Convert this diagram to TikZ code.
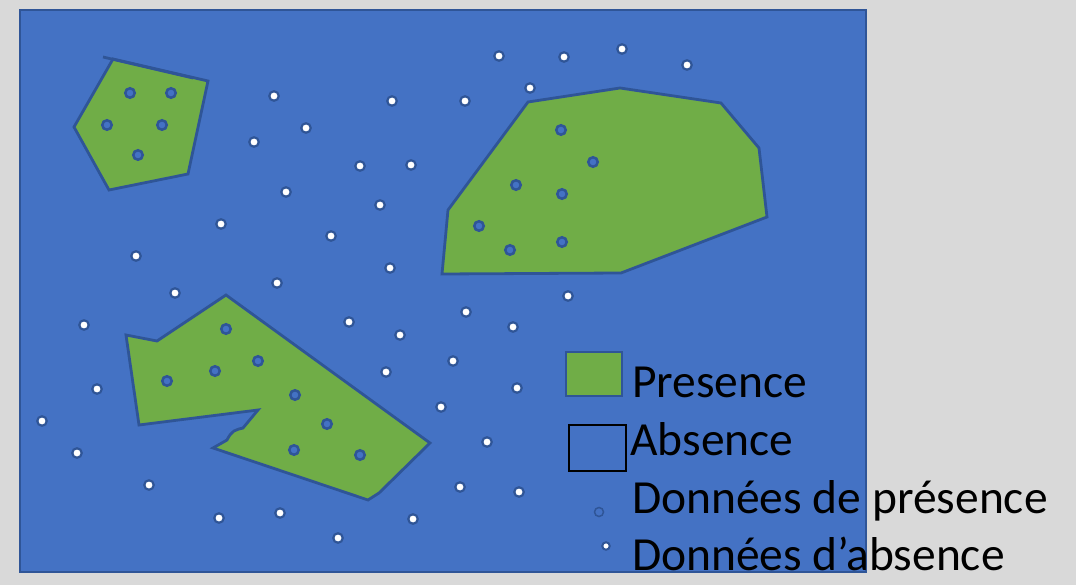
\documentclass[tikz,border=0pt]{standalone}
\usepackage{fontspec}
\setmainfont{Carlito}
\definecolor{bgray}{HTML}{D9D9D9}
\definecolor{mblue}{HTML}{4472C4}
\definecolor{dblue}{HTML}{2F5597}
\definecolor{pgreen}{HTML}{70AD47}
\begin{document}
\begin{tikzpicture}[x=1pt,y=-1pt,
  zone/.style={fill=pgreen,draw=dblue,line width=2.8pt,line join=miter},
  pres/.style={circle,fill=mblue,draw=dblue,line width=2.5pt,minimum size=9.5pt,inner sep=0pt},
  abs/.style={circle,fill=white,draw=dblue,line width=2.2pt,minimum size=9.5pt,inner sep=0pt},
  legtext/.style={anchor=base west,font=\fontsize{47.5}{52}\selectfont,inner sep=0pt,text=black}]
\fill[bgray] (0,0) rectangle (1076,585);
\useasboundingbox (0,0) rectangle (1076,585);
\draw[fill=mblue,draw=dblue,line width=2pt] (20,10) rectangle (866,572);
% zones
\draw[zone] (113,59) -- (208,81) -- (188,174) -- (109,190) -- (74,127) -- cycle;
\draw[dblue,line width=2.8pt] (103,57) -- (193,78);
\draw[zone] (528,102) -- (620,88) -- (721,103) -- (759,148) -- (767,217) -- (621,273) -- (442,274) -- (448,210) -- cycle;
\draw[zone] (226,295) -- (430,443) -- (379,493) -- (368,500) -- (213,448) -- (227,440)
  .. controls (229,436) and (231,433) .. (234,431) .. controls (237,429) and (240,429) .. (243,428)
  -- (258,410) -- (139,425) -- (126,335) -- (157,341) -- cycle;
% presence data
\foreach \x/\y [count=\i] in {130/93,171/93,107/125,162/125,138/155,
  561/130,593/162,516/185,562/194,479/226,510/250,562/242,
  226/329,258/361,215/371,167/381,295/395,327/424,294/450,360/455}
  \node[pres] (p\i) at (\x,\y) {};
% absence data
\foreach \x/\y [count=\i] in {499/56,564/57,622/49,687/65,530/88,274/96,392/101,465/101,306/128,254/142,
  360/166,411/165,286/192,380/205,221/224,331/236,136/256,390/268,277/283,175/293,
  568/296,466/312,84/325,349/322,513/327,400/335,453/361,386/372,97/389,517/388,
  441/407,42/421,487/442,77/453,149/485,460/487,519/492,280/513,219/518,413/519,338/538}
  \node[abs] (a\i) at (\x,\y) {};
% legend
\node[draw=dblue,fill=pgreen,line width=2pt,minimum width=56pt,minimum height=44pt,inner sep=0pt] (lgp) at (594,374) {};
\node[draw=black,line width=2pt,minimum width=57pt,minimum height=46pt,inner sep=0pt] (lga) at (597,448) {};
\node[circle,draw=dblue,line width=1.5pt,minimum size=9pt,inner sep=0pt] (lgpd) at (599,512) {};
\node[abs,minimum size=7.5pt,line width=2pt] (lgad) at (606,546) {};
\node[legtext] (t1) at (632,397) {Presence};
\node[legtext] (t2) at (630,455) {Absence};
\node[legtext] (t3) at (632,513) {Données de présence};
\node[legtext] (t4) at (632,570) {Données d’absence};
\end{tikzpicture}
\end{document}
